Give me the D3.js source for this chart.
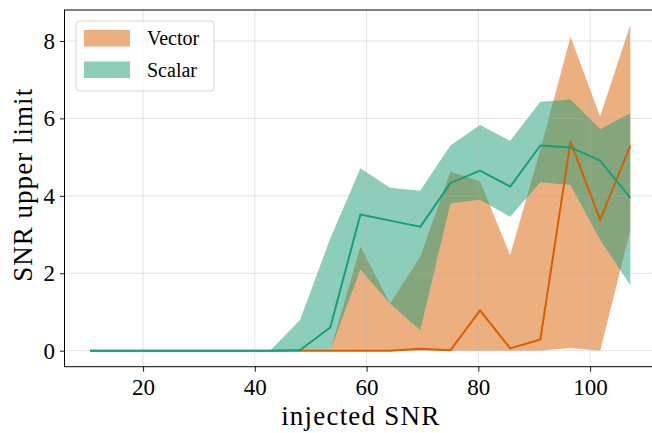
<!DOCTYPE html>
<html>
<head>
<meta charset="utf-8">
<script src="https://cdn.jsdelivr.net/npm/d3@7"></script>
<style>
  html, body { margin: 0; padding: 0; background: #fff; }
  svg { display: block; }
  text { font-family: "Liberation Serif", "Times New Roman", serif; fill: #000; }
</style>
</head>
<body>
<svg id="chart" width="652" height="433"></svg>
<script>
// ---- data ----
const injectedSNR = [10.5, 15.9, 21.2, 26.6, 32.0, 37.4, 42.7, 48.1, 53.5, 58.9, 64.2, 69.6, 75.0, 80.3, 85.7, 91.1, 96.5, 101.8, 107.2];

const vectorMedian = [0, 0, 0, 0, 0, 0, 0, 0, 0, 0, 0, 0.05, 0.01, 1.04, 0.06, 0.29, 5.40, 3.38, 5.30];
const vectorLower  = [0, 0, 0, 0, 0, 0, 0, 0, 0, 0, 0, 0, 0, 0, 0, 0, 0.07, 0, 3.11];
const vectorUpper  = [0, 0, 0, 0, 0, 0, 0, 0, 0, 2.69, 1.22, 2.43, 4.62, 4.38, 2.47, 5.20, 8.11, 6.05, 8.42];

const scalarMedian = [0, 0, 0, 0, 0, 0, 0, 0.02, 0.60, 3.52, 3.36, 3.20, 4.33, 4.65, 4.24, 5.30, 5.25, 4.91, 3.95];
const scalarLower  = [0, 0, 0, 0, 0, 0, 0, 0, 0, 2.10, 1.22, 0.53, 3.80, 3.90, 3.46, 4.35, 4.28, 2.86, 1.70];
const scalarUpper  = [0, 0, 0, 0, 0, 0, 0, 0.79, 2.90, 4.71, 4.21, 4.13, 5.30, 5.83, 5.42, 6.43, 6.49, 5.72, 6.13];

const xTicks = [20, 40, 60, 80, 100];
const yTicks = [0, 2, 4, 6, 8];
const seriesNames = ["Vector", "Scalar"];
const seriesColors = ["#d95f02", "#1b9e77"];

// ---- layout ----
const svg = d3.select("#chart");
const L = 64.5, R = 655.8, T = 10, B = 366.7;

const x = d3.scaleLinear().domain([5.94, 111.76]).range([L, R]);
const y = d3.scaleLinear().domain([-0.413, 8.80]).range([B, T]);

function rows(lo, hi, mid) {
  return injectedSNR.map((v, i) => ({ x: v, lo: lo[i], hi: hi[i], mid: mid[i] }));
}
const vec = rows(vectorLower, vectorUpper, vectorMedian);
const sca = rows(scalarLower, scalarUpper, scalarMedian);

const area = d3.area().x(d => x(d.x)).y0(d => y(d.lo)).y1(d => y(d.hi));
const line = d3.line().x(d => x(d.x)).y(d => y(d.mid));

const plot = svg.append("g");
plot.append("defs").append("clipPath").attr("id", "clip")
  .append("rect").attr("x", L).attr("y", T).attr("width", R - L).attr("height", B - T);

const inner = plot.append("g").attr("clip-path", "url(#clip)");

// bands
inner.append("path").datum(vec).attr("d", area)
  .attr("fill", seriesColors[0]).attr("fill-opacity", 0.5);
inner.append("path").datum(sca).attr("d", area)
  .attr("fill", seriesColors[1]).attr("fill-opacity", 0.5);

// grid
const grid = inner.append("g");
grid.selectAll("line.gx").data(xTicks).join("line")
  .attr("x1", d => x(d)).attr("x2", d => x(d)).attr("y1", T).attr("y2", B)
  .attr("stroke", "#b0b0b0").attr("stroke-opacity", 0.4).attr("stroke-width", 0.9);
grid.selectAll("line.gy").data(yTicks).join("line")
  .attr("y1", d => y(d)).attr("y2", d => y(d)).attr("x1", L).attr("x2", R)
  .attr("stroke", "#b0b0b0").attr("stroke-opacity", 0.4).attr("stroke-width", 0.9);

// median lines
inner.append("path").datum(vec).attr("d", line)
  .attr("fill", "none").attr("stroke", seriesColors[0]).attr("stroke-width", 2)
  .attr("stroke-linejoin", "round");
inner.append("path").datum(sca).attr("d", line)
  .attr("fill", "none").attr("stroke", seriesColors[1]).attr("stroke-width", 2)
  .attr("stroke-linejoin", "round");

// axes
const xAxis = d3.axisBottom(x).tickValues(xTicks).tickSize(5).tickSizeOuter(0).tickPadding(7);
const yAxis = d3.axisLeft(y).tickValues(yTicks).tickSize(4.5).tickSizeOuter(0).tickPadding(5);

const gx = svg.append("g").attr("transform", `translate(0,${B})`).call(xAxis);
const gy = svg.append("g").attr("transform", `translate(${L},0)`).call(yAxis);
[gx, gy].forEach(g => {
  g.select(".domain").remove();
  g.selectAll(".tick line").attr("stroke", "#000").attr("stroke-width", 0.9);
  g.selectAll(".tick text").style("font-family", "'Liberation Serif', serif")
    .style("font-size", "23px").attr("fill", "#000");
});

// frame
svg.append("rect").attr("x", L).attr("y", T).attr("width", R - L).attr("height", B - T)
  .attr("fill", "none").attr("stroke", "#000").attr("stroke-width", 1);

// axis labels
svg.append("text").attr("x", (L + R) / 2).attr("y", 425)
  .attr("text-anchor", "middle").style("font-size", "27px")
  .attr("textLength", 158).attr("lengthAdjust", "spacing")
  .text("injected SNR");
svg.append("text").attr("transform", `translate(32,${(T + B) / 2 - 3}) rotate(-90)`)
  .attr("text-anchor", "middle").style("font-size", "27px")
  .attr("textLength", 193).attr("lengthAdjust", "spacing")
  .text("SNR upper limit");

// legend
const lg = svg.append("g");
lg.append("rect").attr("x", 76).attr("y", 21).attr("width", 138).attr("height", 70)
  .attr("rx", 3).attr("fill", "#fff").attr("fill-opacity", 0.8)
  .attr("stroke", "#d5d5d5").attr("stroke-width", 1);
seriesNames.forEach((name, i) => {
  const yy = 30 + i * 31.5;
  lg.append("rect").attr("x", 84).attr("y", yy).attr("width", 46).attr("height", 16.5)
    .attr("fill", seriesColors[i]).attr("fill-opacity", 0.5);
  lg.append("text").attr("x", 147).attr("y", yy + 15).style("font-size", "20px").text(name);
});
</script>
</body>
</html>
